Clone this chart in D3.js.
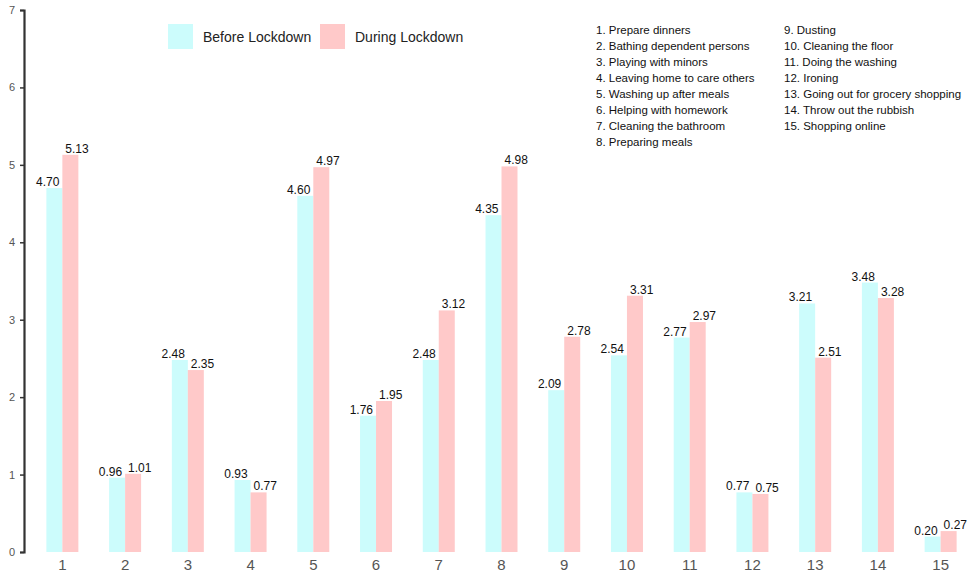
<!DOCTYPE html>
<html>
<head>
<meta charset="utf-8">
<script src="https://cdn.jsdelivr.net/npm/d3@7"></script>
<style>
  body { margin: 0; background: #fff; }
  svg text { font-family: "Liberation Sans", Arial, sans-serif; }
</style>
</head>
<body>
<div id="chart"></div>
<script>
// Chart data
var categories = ["1","2","3","4","5","6","7","8","9","10","11","12","13","14","15"];
var seriesNames = ["Before Lockdown", "During Lockdown"];
var beforeValues = [4.70, 0.96, 2.48, 0.93, 4.60, 1.76, 2.48, 4.35, 2.09, 2.54, 2.77, 0.77, 3.21, 3.48, 0.20];
var duringValues = [5.13, 1.01, 2.35, 0.77, 4.97, 1.95, 3.12, 4.98, 2.78, 3.31, 2.97, 0.75, 2.51, 3.28, 0.27];
var yTicks = [0, 1, 2, 3, 4, 5, 6, 7];
var activityNames = [
  "1. Prepare dinners", "2. Bathing dependent persons", "3. Playing with minors",
  "4. Leaving home to care others", "5. Washing up after meals", "6. Helping with homework",
  "7. Cleaning the bathroom", "8. Preparing meals", "9. Dusting", "10. Cleaning the floor",
  "11. Doing the washing", "12. Ironing", "13. Going out for grocery shopping",
  "14. Throw out the rubbish", "15. Shopping online"
];

var svgWidth = 974;
var svgHeight = 575;
var colors = ["#ccfcfc", "#ffc9c9"];

var svg = d3.select("#chart")
  .append("svg")
  .attr("width", svgWidth)
  .attr("height", svgHeight);

// build rows for the grouped bars
var rows = categories.map(function(c, i) {
  return { cat: c, values: [beforeValues[i], duringValues[i]] };
});

// Scales
var x0 = d3.scaleBand()
  .domain(categories)
  .range([31, 972])
  .paddingInner(0.49)
  .paddingOuter(0.245);

var x1 = d3.scaleBand()
  .domain([0, 1])
  .range([0, x0.bandwidth()]);

var yScale = d3.scaleLinear()
  .domain([0, 7])
  .range([552, 10]);

// Bars
var groups = svg.append("g").selectAll("g")
  .data(rows)
  .enter()
  .append("g")
  .attr("transform", d => `translate(${x0(d.cat)},0)`);

groups.selectAll("rect")
  .data(d => d.values.map((v, k) => ({ k: k, v: v })))
  .enter()
  .append("rect")
  .attr("x", d => x1(d.k))
  .attr("y", d => yScale(d.v))
  .attr("width", x1.bandwidth())
  .attr("height", d => yScale(0) - yScale(d.v))
  .attr("fill", d => colors[d.k]);

// value labels
groups.selectAll("text")
  .data(d => d.values.map((v, k) => ({ k: k, v: v })))
  .enter()
  .append("text")
  .attr("x", d => d.k === 0 ? x0.bandwidth() / 2 - 3 : x0.bandwidth() / 2 + 3)
  .attr("y", d => yScale(d.v) - 2)
  .attr("text-anchor", d => d.k === 0 ? "end" : "start")
  .attr("font-size", "12px")
  .attr("fill", "#111")
  .text(d => d.v.toFixed(2));

// Left axis
var leftAxis = d3.axisLeft(yScale).tickValues(yTicks).tickFormat(d3.format("d"))
  .tickSize(4).tickPadding(5);
var yAxisG = svg.append("g")
  .attr("transform", "translate(24,0)")
  .call(leftAxis);
yAxisG.select(".domain").attr("stroke", "#333").attr("stroke-width", 2.2);
yAxisG.selectAll(".tick line").attr("stroke", "#333").attr("stroke-width", 1.5);
yAxisG.selectAll(".tick text").attr("fill", "#555").attr("font-size", "11px");

// Bottom axis (labels only)
var bottomAxis = d3.axisBottom(x0).tickSize(0).tickPadding(6);
var xAxisG = svg.append("g")
  .attr("transform", "translate(0,553)")
  .call(bottomAxis);
xAxisG.select(".domain").remove();
xAxisG.selectAll(".tick text").attr("fill", "#555").attr("font-size", "15px");

// Legend
var legend = svg.append("g").selectAll("g")
  .data(seriesNames)
  .enter()
  .append("g")
  .attr("transform", (d, i) => `translate(${168 + i * 152},24)`);

legend.append("rect")
  .attr("width", 25)
  .attr("height", 25)
  .attr("fill", (d, i) => colors[i]);

legend.append("text")
  .attr("x", 35)
  .attr("y", 18)
  .attr("font-size", "14px")
  .attr("fill", "#222")
  .text(d => d);

// Activity notes
svg.append("g").selectAll("text")
  .data(activityNames)
  .enter()
  .append("text")
  .attr("x", (d, i) => i < 8 ? 596 : 784)
  .attr("y", (d, i) => 34 + (i < 8 ? i : i - 8) * 16)
  .attr("font-size", "11.5px")
  .attr("fill", "#111")
  .text(d => d);
</script>
</body>
</html>
